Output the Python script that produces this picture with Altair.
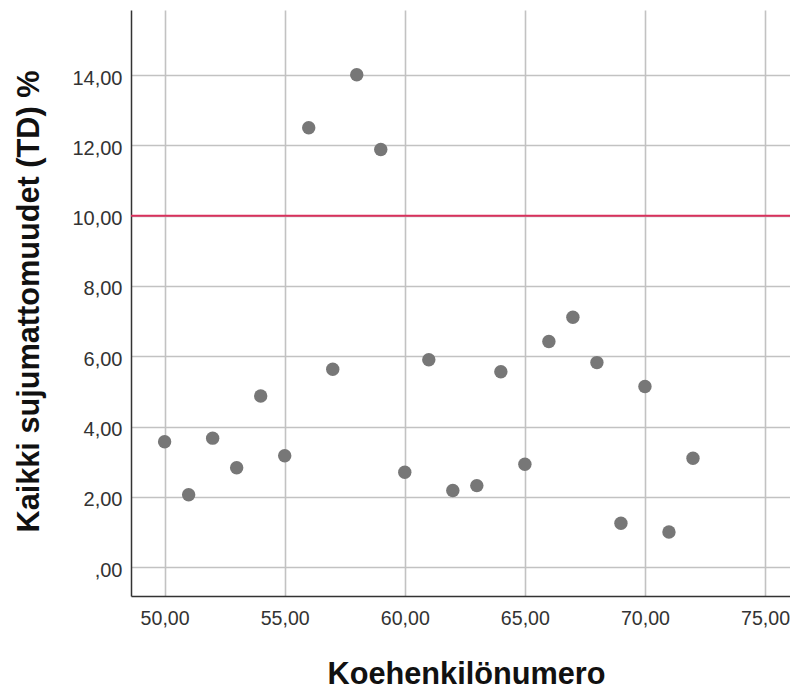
import altair as alt
import pandas as pd

subject = [50, 51, 52, 53, 54, 55, 56, 57, 58, 59, 60, 61, 62, 63, 64, 65, 66, 67, 68, 69, 70, 71, 72]
td_percent = [3.57, 2.06, 3.67, 2.83, 4.87, 3.17, 12.50, 5.63, 14.01, 11.88, 2.70, 5.90,
              2.18, 2.32, 5.56, 2.93, 6.42, 7.11, 5.82, 1.25, 5.14, 1.00, 3.10]
x_ticks = [50, 55, 60, 65, 70, 75]
y_ticks = [0, 2, 4, 6, 8, 10, 12, 14]
ref_value = [10]

df = pd.DataFrame({"subject": subject, "td": td_percent})
ref = pd.DataFrame({"ref": ref_value})

fmt = "datum.value == 0 ? ',00' : replace(format(datum.value, '.2f'), '.', ',')"

x_enc = alt.X(
    "subject:Q",
    scale=alt.Scale(domain=[48.6, 76.04], nice=False, zero=False),
    axis=alt.Axis(
        values=x_ticks, labelExpr=fmt, title="Koehenkilönumero",
        titleX=335, titleY=87, titleBaseline="alphabetic",
        labelPadding=13, labelFontSize=19.6,
    ),
)
y_enc = alt.Y(
    "td:Q",
    scale=alt.Scale(domain=[-0.82, 15.85], nice=False, zero=False),
    axis=alt.Axis(
        values=y_ticks, labelExpr=fmt, title="Kaikki sujumattomuudet (TD) %",
        titleX=-93, titleY=291, titleBaseline="alphabetic", titleAngle=-90,
        labelPadding=9, labelOffset=3,
    ),
)

points = alt.Chart(df).mark_circle(size=180, color="#777777", opacity=1).encode(x=x_enc, y=y_enc)
rule = alt.Chart(ref).mark_rule(color="#d9305c", strokeWidth=2).encode(y="ref:Q")

chart = (
    alt.layer(rule, points)
    .properties(
        width=659, height=586,
        autosize=alt.AutoSizeParams(type="none"),
        padding={"left": 123, "top": 2, "right": 0, "bottom": 94},
    )
    .configure_view(stroke=None)
    .configure_axis(
        grid=True, gridColor="#c2c2c2", gridWidth=1.6,
        domainColor="#333333", domainWidth=1.5,
        ticks=False,
        labelFont="Liberation Sans", labelFontSize=20, labelColor="#333333",
        titleFont="Liberation Sans", titleFontSize=30.7, titleFontWeight="bold", titleColor="#111111",
    )
)

chart.save("out.html", embed_options={"renderer": "svg", "actions": False})
